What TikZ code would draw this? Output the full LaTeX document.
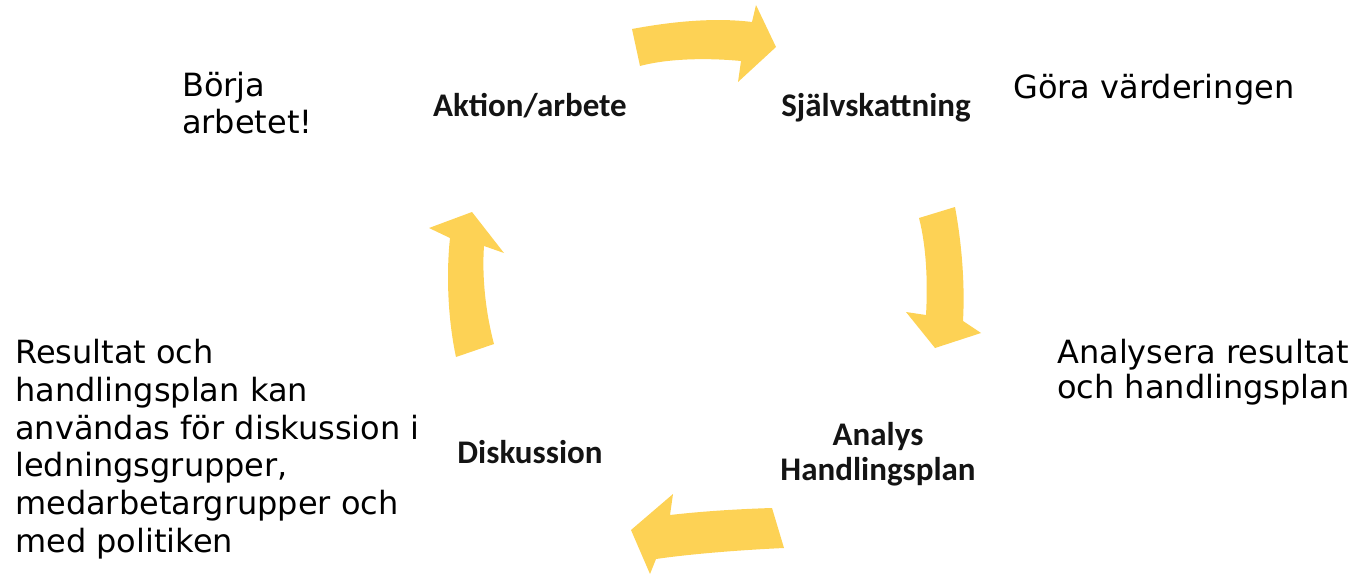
\documentclass[tikz,border=0pt]{standalone}
\usepackage{fontspec}
\setmainfont{DejaVu Sans}
\newfontfamily\lblfont{Carlito}
\definecolor{arrowyellow}{RGB}{253,210,85}
\definecolor{lbltext}{RGB}{20,20,20}
\begin{document}
\begin{tikzpicture}[x=1pt,y=-1pt,
  yarrow/.style={fill=arrowyellow,draw=none},
  steplabel/.style={font=\lblfont\bfseries\fontsize{33}{35}\selectfont,text=lbltext,inner sep=0pt,align=center},
  note/.style={font=\fontsize{32}{37}\selectfont,inner sep=0pt,align=left,anchor=north west}]
\useasboundingbox (0,0) rectangle (1357,575);
% arrows
\path[yarrow] (632,29) .. controls (680,20) and (720,18) .. (752,22)
  -- (756,5) -- (776,47) -- (738,82) -- (741,61)
  .. controls (710,58) and (670,58) .. (640,66) -- cycle;
\path[yarrow] (919,218) -- (955,207)
  .. controls (962,245) and (965,285) .. (963,321)
  -- (981,333) -- (935,348) -- (906,312) -- (926,315)
  .. controls (928,280) and (926,245) .. cycle;
\path[yarrow] (772,508) -- (784,548)
  .. controls (740,550) and (690,554) .. (656,559)
  -- (650,574) -- (631,530) -- (673,494) -- (670,515)
  .. controls (705,511) and (740,509) .. cycle;
\path[yarrow] (456,357) -- (494,344)
  .. controls (485,310) and (482,275) .. (484,246)
  -- (504,253) -- (472,212) -- (429,228) -- (450,238)
  .. controls (446,275) and (448,320) .. cycle;
% step labels
\node[steplabel] (aktion) at (530,106) {Aktion/arbete};
\node[steplabel] (sjalv) at (876,108) {Självskattning};
\node[steplabel] (analys) at (878,454) {Analys\\Handlingsplan};
\node[steplabel] (disk) at (530,452) {Diskussion};
% notes
\node[note] (borja) at (182,72) {Börja\\arbetet!};
\node[note] (gora) at (1013,74) {Göra värderingen};
\node[note,font=\fontsize{32}{34.5}\selectfont] (analysera) at (1057,339) {Analysera resultat\\och handlingsplan};
\node[note,font=\fontsize{32}{37.8}\selectfont] (resultat) at (15,339) {Resultat och\\handlingsplan kan\\användas för diskussion i\\ledningsgrupper,\\medarbetargrupper och\\med politiken};
\end{tikzpicture}
\end{document}
